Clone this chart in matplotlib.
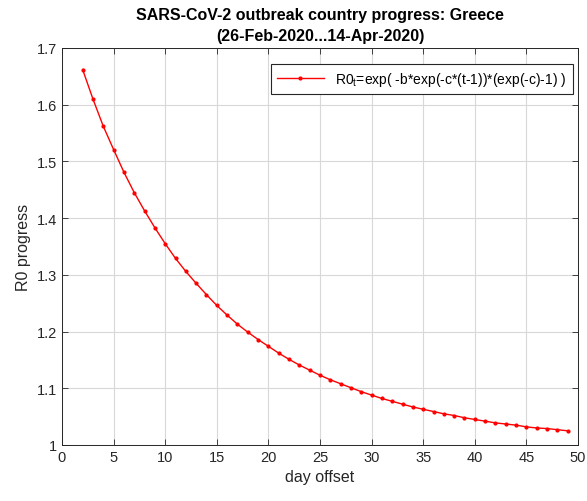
import matplotlib
matplotlib.use("Agg")
import matplotlib.pyplot as plt

# R0 progress
days = list(range(2, 50))
r0 = [1.662, 1.610, 1.562, 1.521, 1.481, 1.445, 1.413, 1.383, 1.355, 1.329,
      1.306, 1.285, 1.265, 1.246, 1.229, 1.213, 1.199, 1.186, 1.174, 1.162,
      1.151, 1.141, 1.132, 1.123, 1.115, 1.108, 1.101, 1.094, 1.088, 1.082,
      1.077, 1.072, 1.067, 1.063, 1.059, 1.055, 1.052, 1.048, 1.045, 1.042,
      1.039, 1.037, 1.035, 1.032, 1.030, 1.029, 1.027, 1.025]

x_ticks = list(range(0, 51, 5))
y_ticks = [1.0, 1.1, 1.2, 1.3, 1.4, 1.5, 1.6, 1.7]
y_tick_labels = ["1", "1.1", "1.2", "1.3", "1.4", "1.5", "1.6", "1.7"]

plt.rcParams["font.family"] = ["Liberation Sans", "DejaVu Sans"]
plt.rcParams["mathtext.fontset"] = "custom"
plt.rcParams["mathtext.rm"] = "Liberation Sans"
plt.rcParams["mathtext.it"] = "Liberation Sans"

dark = "#262626"

fig = plt.figure(figsize=(5.87, 5.02), dpi=100)
ax = fig.add_axes([62 / 587, 56 / 502, 516 / 587, 397 / 502])

ax.plot(days, r0, color="red", linewidth=1.0, marker=".", markersize=4,
        label=r"R0$_\mathrm{t}$=exp( -b*exp(-c*(t-1))*(exp(-c)-1) )")

ax.set_xlim(0, 50)
ax.set_ylim(1.0, 1.7)
ax.set_xticks(x_ticks)
ax.set_yticks(y_ticks)
ax.set_yticklabels(y_tick_labels)
ax.grid(True, color="#d8d8d8", linewidth=0.8)
ax.set_axisbelow(True)

ax.tick_params(direction="in", top=True, right=True, length=4, width=0.6,
               colors=dark, labelsize=10.5, labelcolor=dark)
for s in ax.spines.values():
    s.set_color(dark)
    s.set_linewidth(0.7)

ax.set_xlabel("day offset", fontsize=11.5, color=dark)
ax.set_ylabel("R0 progress", fontsize=11.5, color=dark)
ax.set_title("SARS-CoV-2 outbreak country progress: Greece\n(26-Feb-2020...14-Apr-2020)",
             fontsize=11.5, fontweight="bold", color="black", pad=6, linespacing=1.45)

leg = ax.legend(loc="upper right", bbox_to_anchor=(0.99, 0.96), fontsize=10,
                frameon=True, fancybox=False, borderaxespad=0.0,
                handlelength=3.4, borderpad=0.45)
leg.get_frame().set_edgecolor(dark)
leg.get_frame().set_linewidth(0.8)
leg.get_frame().set_alpha(1)

fig.savefig("out.png", dpi=100)
